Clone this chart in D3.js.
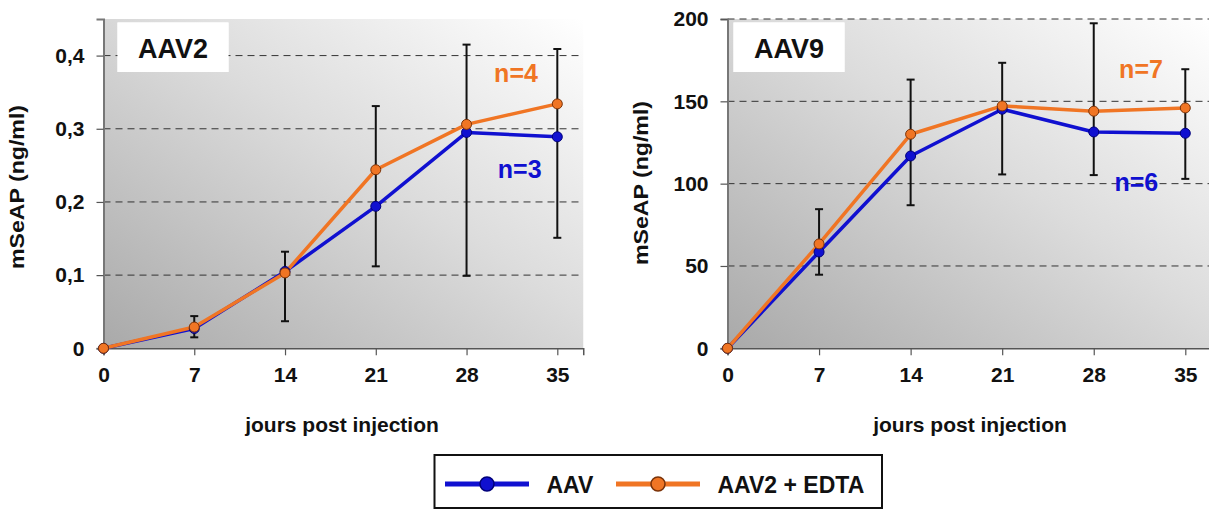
<!DOCTYPE html>
<html>
<head>
<meta charset="utf-8">
<script src="https://cdn.jsdelivr.net/npm/d3@7/dist/d3.min.js"></script>
<style>
  html, body { margin: 0; padding: 0; background: #ffffff; }
  svg { display: block; }
  text { font-family: "Liberation Sans", Arial, Helvetica, sans-serif; font-weight: bold; }
</style>
</head>
<body>
<svg id="chart" width="1209" height="510"></svg>
<script>
// ---------- data ----------
const days = [0, 7, 14, 21, 28, 35];
const xTicks = [0, 7, 14, 21, 28, 35];

const aav2Ticks = [0, 0.1, 0.2, 0.3, 0.4];
const aav2TickLabels = ["0", "0,1", "0,2", "0,3", "0,4"];
const aav2Blue = [0, 0.027, 0.105, 0.194, 0.295, 0.289];
const aav2Orange = [0, 0.029, 0.103, 0.244, 0.306, 0.334];
const aav2ErrLow = [null, 0.015, 0.037, 0.112, 0.099, 0.151];
const aav2ErrHigh = [null, 0.044, 0.132, 0.331, 0.415, 0.409];

const aav9Ticks = [0, 50, 100, 150, 200];
const aav9TickLabels = ["0", "50", "100", "150", "200"];
const aav9Blue = [0, 58.5, 116.8, 145.2, 131.4, 130.6];
const aav9Orange = [0, 63.4, 130, 147.2, 144, 146];
const aav9ErrLow = [null, 44.7, 86.9, 105.6, 105.2, 102.9];
const aav9ErrHigh = [null, 84.5, 163.2, 173.4, 197.4, 169.5];

const seriesNames = ["AAV", "AAV2 + EDTA"];
const yTitle = "mSeAP (ng/ml)";
const xTitle = "jours post injection";

// ---------- styles ----------
const BLUE = "#1010d0";
const BLUE_DARK = "#00007a";
const ORANGE = "#f07524";
const ORANGE_DARK = "#7a3208";

const svg = d3.select("#chart");

const defs = svg.append("defs");
const grad = defs.append("linearGradient")
  .attr("id", "bg").attr("x1", "0").attr("y1", "1").attr("x2", "1").attr("y2", "0");
grad.append("stop").attr("offset", "0%").attr("stop-color", "#a9a9a9");
grad.append("stop").attr("offset", "55%").attr("stop-color", "#dcdcdc");
grad.append("stop").attr("offset", "100%").attr("stop-color", "#ffffff");

function panel(cfg) {
  const g = svg.append("g");
  const x = d3.scaleLinear().domain([0, 37]).range([cfg.left, cfg.left + 37 * cfg.pxPerDay]);
  const y = d3.scaleLinear().domain([0, cfg.yMax]).range([348.3, 19]);

  // background
  g.append("rect")
    .attr("x", x(0)).attr("y", y(cfg.yMax))
    .attr("width", x(37) - x(0)).attr("height", y(0) - y(cfg.yMax))
    .attr("fill", "url(#bg)");

  // label box
  g.append("rect")
    .attr("x", x(0) + cfg.boxDx).attr("y", 22.5)
    .attr("width", cfg.boxW).attr("height", 49.5)
    .attr("fill", "#ffffff");
  g.append("text")
    .attr("x", x(0) + cfg.boxDx + cfg.boxW / 2).attr("y", 58.3)
    .attr("text-anchor", "middle").attr("font-size", 27).attr("fill", "#111")
    .text(cfg.title);

  // gridlines (dashed)
  g.selectAll(".grid").data(cfg.ticks.filter(t => t > 0)).enter().append("line")
    .attr("x1", x(0)).attr("x2", x(37))
    .attr("y1", d => y(d)).attr("y2", d => y(d))
    .attr("stroke", "#333").attr("stroke-width", 1)
    .attr("stroke-dasharray", "7,5");
  // redraw label box over the grid
  g.append("rect")
    .attr("x", x(0) + cfg.boxDx).attr("y", 22.5)
    .attr("width", cfg.boxW).attr("height", 49.5)
    .attr("fill", "#ffffff");
  g.append("text")
    .attr("x", x(0) + cfg.boxDx + cfg.boxW / 2).attr("y", 58.3)
    .attr("text-anchor", "middle").attr("font-size", 27).attr("fill", "#111")
    .text(cfg.title);

  // axes
  const yAxis = d3.axisLeft(y).tickValues(cfg.ticks)
    .tickFormat((d, i) => cfg.tickLabels[i]).tickSize(7).tickPadding(12);
  const ya = g.append("g").attr("transform", `translate(${x(0)},0)`).call(yAxis);
  ya.select(".domain").attr("stroke", "#777").attr("stroke-width", 2);
  ya.selectAll(".tick line").attr("stroke", "#555").attr("stroke-width", 1.2);
  ya.selectAll(".tick text").attr("font-size", 21).attr("fill", "#111")
    .attr("font-family", "'Liberation Sans', Arial, sans-serif").attr("font-weight", "bold");

  const xAxis = d3.axisBottom(x).tickValues(xTicks).tickFormat(d3.format("d"))
    .tickSize(7).tickPadding(12);
  const xa = g.append("g").attr("transform", `translate(0,${y(0)})`).call(xAxis);
  xa.select(".domain").attr("stroke", "#555").attr("stroke-width", 1.5);
  xa.selectAll(".tick line").attr("stroke", "#555").attr("stroke-width", 1.2);
  xa.selectAll(".tick text").attr("font-size", 21).attr("fill", "#111")
    .attr("font-family", "'Liberation Sans', Arial, sans-serif").attr("font-weight", "bold");

  // error bars
  const err = days.map((d, i) => ({ d, lo: cfg.errLow[i], hi: cfg.errHigh[i] }))
    .filter(e => e.lo !== null);
  const eb = g.append("g").attr("stroke", "#111").attr("stroke-width", 2);
  eb.selectAll(".ev").data(err).enter().append("line")
    .attr("x1", e => x(e.d)).attr("x2", e => x(e.d))
    .attr("y1", e => y(e.lo)).attr("y2", e => y(e.hi));
  eb.selectAll(".et").data(err).enter().append("line")
    .attr("x1", e => x(e.d) - 4).attr("x2", e => x(e.d) + 4)
    .attr("y1", e => y(e.hi)).attr("y2", e => y(e.hi));
  eb.selectAll(".eb").data(err).enter().append("line")
    .attr("x1", e => x(e.d) - 4).attr("x2", e => x(e.d) + 4)
    .attr("y1", e => y(e.lo)).attr("y2", e => y(e.lo));

  // lines
  const line = d3.line().x((d, i) => x(days[i])).y(d => y(d));
  const series = [
    { vals: cfg.blue, color: BLUE, dark: BLUE_DARK },
    { vals: cfg.orange, color: ORANGE, dark: ORANGE_DARK }
  ];
  series.forEach(s => {
    g.append("path").datum(s.vals).attr("d", line)
      .attr("fill", "none").attr("stroke", s.color).attr("stroke-width", 3.5)
      .attr("stroke-linejoin", "round");
  });
  series.forEach(s => {
    g.selectAll(null).data(s.vals).enter().append("circle")
      .attr("cx", (d, i) => x(days[i])).attr("cy", d => y(d)).attr("r", 5)
      .attr("fill", s.color).attr("stroke", s.dark).attr("stroke-width", 1);
  });

  // n labels
  g.append("text").attr("x", cfg.nOrange[0]).attr("y", cfg.nOrange[1])
    .attr("text-anchor", "middle").attr("font-size", 25).attr("fill", ORANGE)
    .text(cfg.nOrange[2]);
  g.append("text").attr("x", cfg.nBlue[0]).attr("y", cfg.nBlue[1])
    .attr("text-anchor", "middle").attr("font-size", 25).attr("fill", BLUE)
    .text(cfg.nBlue[2]);

  // axis titles
  g.append("text")
    .attr("transform", `translate(${x(0) - 80},${cfg.yTitleY}) rotate(-90)`)
    .attr("text-anchor", "middle").attr("font-size", 20).attr("fill", "#111")
    .attr("textLength", 164).attr("lengthAdjust", "spacingAndGlyphs")
    .text(yTitle);
  g.append("text")
    .attr("x", cfg.xTitleX).attr("y", 432)
    .attr("text-anchor", "middle").attr("font-size", 21).attr("fill", "#111")
    .text(xTitle);
}

panel({
  left: 103.5, pxPerDay: 12.966, yMax: 0.45,
  ticks: aav2Ticks, tickLabels: aav2TickLabels,
  blue: aav2Blue, orange: aav2Orange, errLow: aav2ErrLow, errHigh: aav2ErrHigh,
  title: "AAV2", boxDx: 14, boxW: 111,
  nOrange: [516, 81.7, "n=4"], nBlue: [519.7, 178.3, "n=3"],
  yTitleY: 187, xTitleX: 342
});

panel({
  left: 727.5, pxPerDay: 13.08, yMax: 200,
  ticks: aav9Ticks, tickLabels: aav9TickLabels,
  blue: aav9Blue, orange: aav9Orange, errLow: aav9ErrLow, errHigh: aav9ErrHigh,
  title: "AAV9", boxDx: 6, boxW: 111,
  nOrange: [1141, 78.3, "n=7"], nBlue: [1136.3, 191, "n=6"],
  yTitleY: 183, xTitleX: 970
});

// legend
const lg = svg.append("g");
lg.append("rect").attr("x", 434.5).attr("y", 455).attr("width", 447.5).attr("height", 53)
  .attr("fill", "#ffffff").attr("stroke", "#111").attr("stroke-width", 2);
const legendItems = [
  { name: seriesNames[0], color: BLUE, dark: BLUE_DARK, x0: 445, x1: 529, tx: 546.5 },
  { name: seriesNames[1], color: ORANGE, dark: ORANGE_DARK, x0: 616, x1: 700, tx: 717.5 }
];
legendItems.forEach(it => {
  lg.append("line").attr("x1", it.x0).attr("x2", it.x1).attr("y1", 484).attr("y2", 484)
    .attr("stroke", it.color).attr("stroke-width", 5);
  lg.append("circle").attr("cx", (it.x0 + it.x1) / 2).attr("cy", 484).attr("r", 7)
    .attr("fill", it.color).attr("stroke", it.dark).attr("stroke-width", 1.5);
  lg.append("text").attr("x", it.tx).attr("y", 492.5).attr("font-size", 23).attr("fill", "#111")
    .text(it.name);
});
</script>
</body>
</html>
